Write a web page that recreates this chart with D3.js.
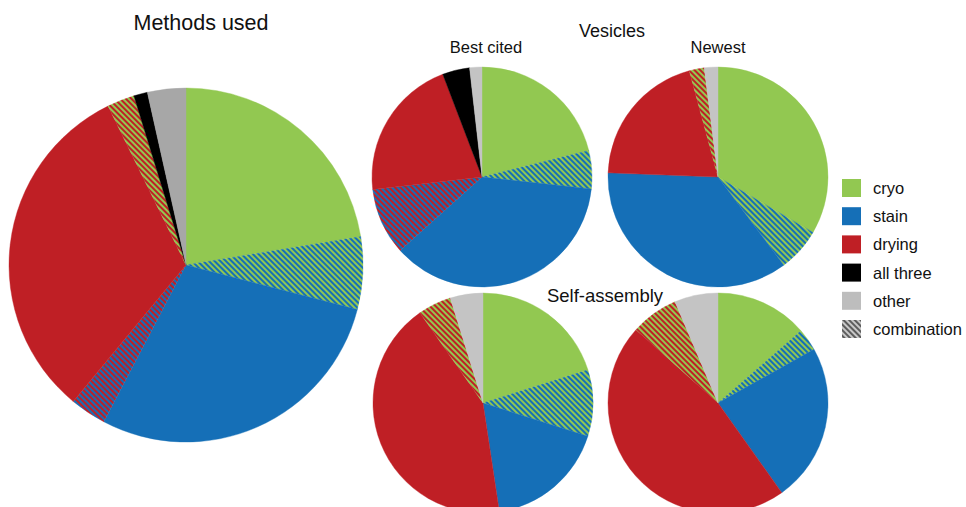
<!DOCTYPE html>
<html>
<head>
<meta charset="utf-8">
<script src="https://cdn.jsdelivr.net/npm/d3@7"></script>
<style>
  body { margin: 0; background: #fff; }
  svg { display: block; font-family: "Liberation Sans", Arial, sans-serif; }
</style>
</head>
<body>
<svg id="chart" width="966" height="507"></svg>
<script>
// slice order, clockwise from 12 o'clock
const categories = ["cryo", "cryo+stain", "stain", "stain+drying", "drying", "cryo+drying", "all three", "other"];

// shares in percent
const methodsUsed   = [22.4, 6.6, 28.6, 3.3, 31.7, 2.5, 1.25, 3.5];
const vesBestCited  = [21.1, 5.6, 36.6, 9.8, 21.0, 0, 4.0, 1.8];
const vesNewest     = [33.4, 6.4, 35.8, 0, 20.2, 2.2, 0, 2.0];
const selfBestCited = [20.1, 9.75, 17.7, 0, 42.6, 4.9, 0, 4.8];
const selfNewest    = [13.6, 3.3, 23.3, 0, 46.5, 7.0, 0, 6.4];

const legendLabels = ["cryo", "stain", "drying", "all three", "other", "combination"];

const base = { cryo: "#92c851", stain: "#156fb7", drying: "#bf1f25", "all three": "#000000", other: "#c2c2c2" };
// hatched slices: two alternating stripe colours
const combos = {
  "cryo+stain": ["cryo", "stain"],
  "stain+drying": ["stain", "drying"],
  "cryo+drying": ["cryo", "drying"]
};

const svg = d3.select("#chart");
const defs = svg.append("defs");

function stripes(id, c1, c2, w) {
  const p = defs.append("pattern")
      .attr("id", id)
      .attr("patternUnits", "userSpaceOnUse")
      .attr("width", w).attr("height", w)
      .attr("patternTransform", "rotate(-45)");
  p.append("rect").attr("width", w).attr("height", w).attr("fill", c2);
  p.append("rect").attr("width", w / 2).attr("height", w).attr("fill", c1);
}
Object.entries(combos).forEach(([k, [a, b]]) => stripes("hatch-" + k.replace("+", "-"), base[a], base[b], 4));
stripes("hatch-legend", "#5c5c5c", "#c8c8c8", 4);

function fillFor(cat, otherColor) {
  if (combos[cat]) return `url(#hatch-${cat.replace("+", "-")})`;
  if (cat === "other") return otherColor;
  return base[cat];
}

const pie = d3.pie().sort(null).value(d => d.value);

function drawPie(values, cx, cy, r, otherColor) {
  const data = categories.map((c, i) => ({ cat: c, value: values[i] }));
  const arc = d3.arc().innerRadius(0).outerRadius(r);
  svg.append("g")
      .attr("transform", `translate(${cx},${cy})`)
    .selectAll("path")
    .data(pie(data).filter(d => d.data.value > 0))
    .join("path")
      .attr("d", arc)
      .attr("fill", d => fillFor(d.data.cat, otherColor))
      .attr("stroke", d => fillFor(d.data.cat, otherColor))
      .attr("stroke-width", 0.4);
}

drawPie(methodsUsed, 186, 265, 177, "#a7a7a7");
drawPie(vesBestCited, 482, 177, 110, "#c4c4c4");
drawPie(vesNewest, 718, 177, 110, "#c4c4c4");
drawPie(selfBestCited, 483, 403, 110, "#c4c4c4");
drawPie(selfNewest, 718, 403, 110, "#c4c4c4");

// titles
const titles = [
  { t: "Methods used", x: 201, y: 30, s: 21.5 },
  { t: "Vesicles", x: 612, y: 37, s: 18 },
  { t: "Best cited", x: 486, y: 53, s: 16.5 },
  { t: "Newest", x: 718, y: 53, s: 16.5 },
  { t: "Self-assembly", x: 605, y: 302, s: 18.5 }
];
svg.append("g").selectAll("text")
  .data(titles)
  .join("text")
    .attr("x", d => d.x).attr("y", d => d.y)
    .attr("text-anchor", "middle")
    .attr("font-size", d => d.s)
    .attr("fill", "#111")
    .text(d => d.t);

// legend
const legendFill = {
  cryo: base.cryo, stain: base.stain, drying: base.drying,
  "all three": base["all three"], other: "#bdbdbd", combination: "url(#hatch-legend)"
};
const ly = d3.scalePoint().domain(legendLabels).range([179, 320]);
const legend = svg.append("g").selectAll("g")
  .data(legendLabels)
  .join("g")
    .attr("transform", d => `translate(842,${ly(d)})`);
legend.append("rect")
    .attr("width", 19).attr("height", 18)
    .attr("fill", d => legendFill[d]);
legend.append("text")
    .attr("x", 31).attr("y", 15)
    .attr("font-size", 16.5)
    .attr("fill", "#111")
    .text(d => d);
</script>
</body>
</html>
